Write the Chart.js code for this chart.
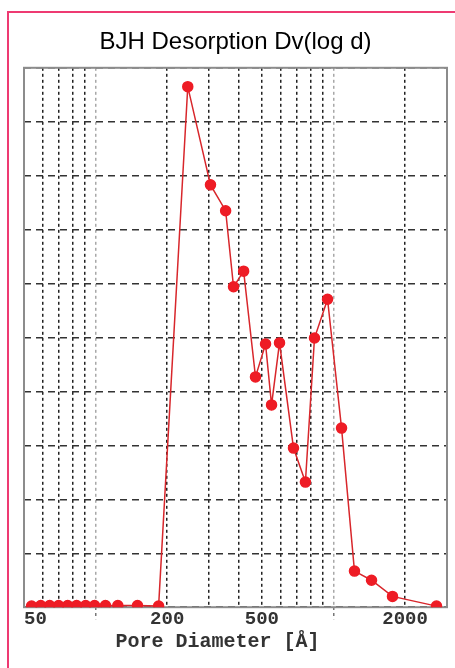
<!DOCTYPE html>
<html>
<head>
<meta charset="utf-8">
<script src="https://cdn.jsdelivr.net/npm/chart.js@4.4.0/dist/chart.umd.min.js"></script>
<style>
    html, body { margin: 0; padding: 0; background: #fff; overflow: hidden; }
    .wrap { position: relative; width: 455px; height: 668px; }
    .frame { position: absolute; left: 7px; top: 11px; width: 600px; height: 800px;
             border-left: 2px solid #ee3a72; border-top: 2px solid #ee3a72; }
    canvas { position: absolute; left: 0; top: 0; }
</style>
</head>
<body>
<div class="wrap">
    <div class="frame"></div>
    <canvas id="bjhChart" width="455" height="668"></canvas>
</div>
<script>
// Pore diameter (Å) and dV/dlog(D)
const diameters = [53.8, 58.8, 64.1, 69.9, 76.3, 83.2, 90.8, 99.0, 110, 124, 150, 184,
    244, 304, 352, 380, 419, 470, 518, 549, 593, 679, 762, 832, 944, 1081,
    1225, 1445, 1770, 2710];
const dvValues = [0.02, 0.03, 0.03, 0.03, 0.03, 0.03, 0.03, 0.03, 0.03, 0.03, 0.03, 0.02,
    9.65, 7.83, 7.35, 5.94, 6.23, 4.27, 4.88, 3.75, 4.90, 2.95, 2.32, 4.99, 5.71, 3.32,
    0.67, 0.50, 0.20, 0.02];

// Log axis grid ticks and the ones that carry a label
const gridTicks = [50, 60, 70, 80, 90, 100, 200, 300, 400, 500, 600, 700, 800, 900, 1000, 2000, 3000];
const labelTicks = [50, 200, 500, 2000];
const decadeTicks = [100, 1000];

// Grey box round the plot area
const framePlugin = {
    id: 'plotFrame',
    beforeDatasetsDraw(chart) {
        const { ctx, chartArea } = chart;
        ctx.save();
        ctx.strokeStyle = '#8c8c8c';
        ctx.lineWidth = 2;
        ctx.strokeRect(chartArea.left, chartArea.top, chartArea.right - chartArea.left, chartArea.bottom - chartArea.top);
        ctx.restore();
    }
};

const ctx = document.getElementById('bjhChart').getContext('2d');
const bjhChart = new Chart(ctx, {
    type: 'line',
    data: {
        datasets: [{
            label: 'Dv(log d)',
            data: diameters.map((d, i) => ({ x: d, y: dvValues[i] })),
            borderColor: '#d8262b',
            borderWidth: 1.5,
            pointBackgroundColor: '#ee1c25',
            pointBorderColor: '#ee1c25',
            pointRadius: 5,
            tension: 0
        }]
    },
    options: {
        responsive: false,
        animation: false,
        layout: {
            padding: { left: 24, right: 8, top: 0, bottom: 10 }
        },
        plugins: {
            legend: { display: false },
            tooltip: { enabled: false },
            title: {
                display: true,
                text: 'BJH Desorption Dv(log d)',
                color: '#000',
                font: { family: 'Liberation Sans, Arial, sans-serif', size: 24, weight: 'normal' },
                padding: { top: 28, bottom: 11 }
            }
        },
        scales: {
            x: {
                type: 'logarithmic',
                min: 50,
                max: 3000,
                afterBuildTicks: function(scale) {
                    scale.ticks = gridTicks.map(v => ({ value: v }));
                },
                ticks: {
                    autoSkip: false,
                    maxRotation: 0,
                    align: 'inner',
                    padding: -11,
                    color: '#333',
                    font: { family: 'Liberation Mono, Courier New, monospace', size: 19, weight: 'bold' },
                    callback: function(value) {
                        return labelTicks.includes(value) ? String(value) : '';
                    }
                },
                grid: {
                    lineWidth: 1.5,
                    color: function(c) {
                        return c.tick && decadeTicks.includes(c.tick.value) ? '#a8a8a8' : '#222';
                    },
                    tickLength: 12,
                    tickWidth: 1.5,
                    tickBorderDash: [3, 3],
                    tickColor: function(c) {
                        return c.tick && decadeTicks.includes(c.tick.value) ? '#777' : 'rgba(0,0,0,0)';
                    }
                },
                border: { display: false, dash: [3, 3] },
                title: {
                    display: true,
                    text: 'Pore Diameter [Å]   ',
                    color: '#333',
                    font: { family: 'Liberation Mono, Courier New, monospace', size: 20, weight: 'bold' },
                    padding: { top: 10, bottom: 4 }
                }
            },
            y: {
                min: 0,
                max: 10,
                ticks: { display: false, stepSize: 1 },
                grid: { drawTicks: false, color: '#333', lineWidth: 1.5 },
                border: { display: false, dash: [7, 5] }
            }
        }
    },
    plugins: [framePlugin]
});
</script>
</body>
</html>
